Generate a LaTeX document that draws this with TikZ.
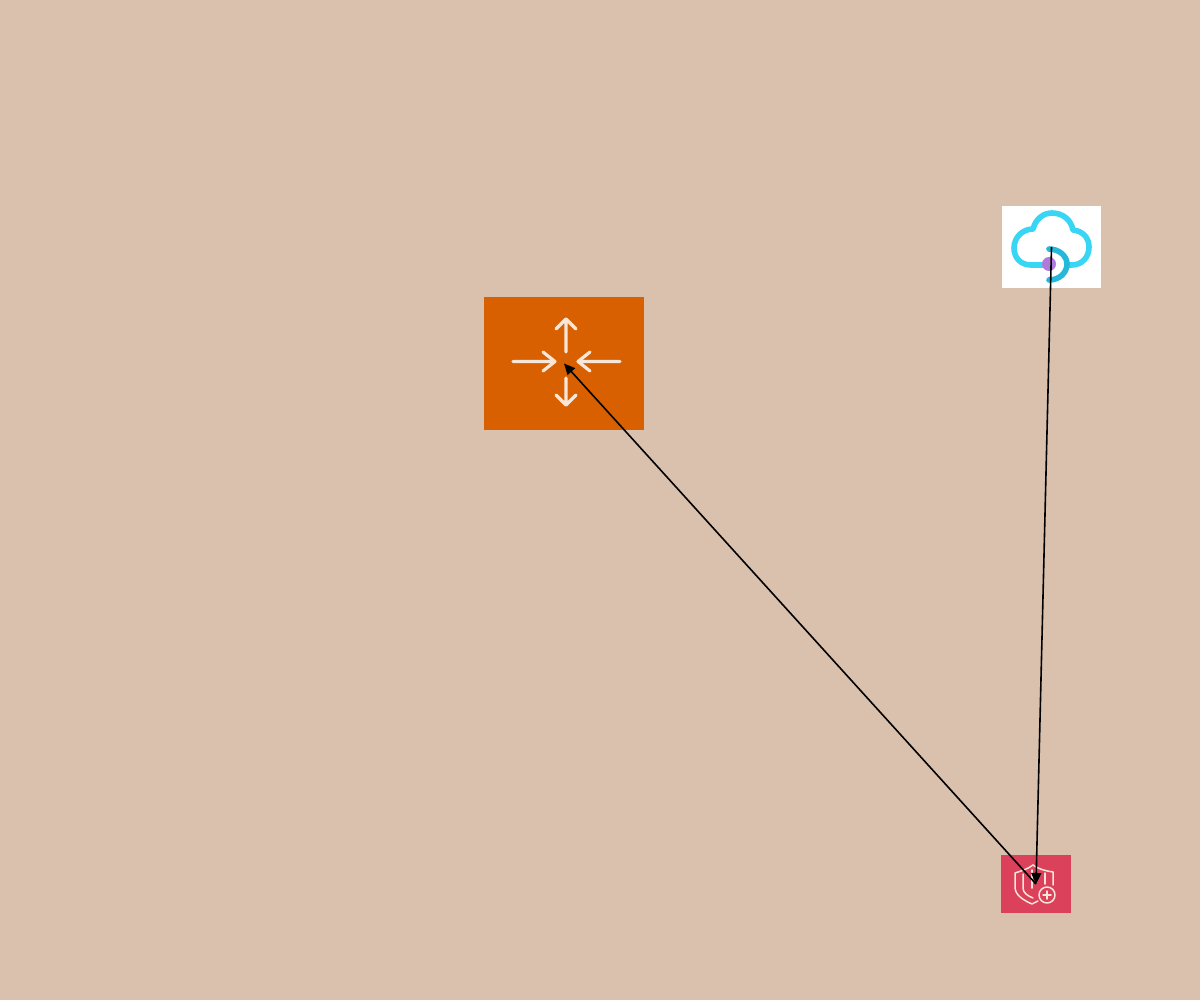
\documentclass[tikz,border=0pt]{standalone}
\usetikzlibrary{arrows.meta}
\definecolor{bgc}{HTML}{DAC1AE}
\definecolor{orangec}{HTML}{D86000}
\definecolor{redc}{HTML}{DB415A}
\definecolor{cyanc}{HTML}{38D6F4}
\definecolor{cyand}{HTML}{26B8D8}
\definecolor{purplec}{HTML}{B07ADB}
\definecolor{glyphc}{HTML}{F8E6D8}
\tikzset{
  x=1pt,y=-1pt,
  iconbox/.style={draw=none,inner sep=0pt,outer sep=0pt,minimum width=#1},
  link/.style={draw=black,line width=1.6pt,-{Triangle[length=11pt,width=10pt]}},
  glyph/.style={draw=glyphc,line width=3.2pt,line cap=round,line join=round},
  shieldline/.style={draw=glyphc,line width=1.5pt,line cap=round,line join=round},
  cloudline/.style={line width=5.6pt,line cap=round,line join=round},
}
\begin{document}
\begin{tikzpicture}
\useasboundingbox (0,0) rectangle (1200,1000);
\fill[bgc] (0,0) rectangle (1200,1000);
% icon tiles
\node[iconbox=99pt,minimum height=82pt,fill=white] (cloud) at (1051.5,247) {};
\node[iconbox=160pt,minimum height=133pt,fill=orangec] (router) at (564,363.5) {};
\node[iconbox=70pt,minimum height=58pt,fill=redc] (shield) at (1036,884) {};
% cloud glyph
\draw[cloudline,draw=cyanc]
  (1043,265) -- (1031,265)
  .. controls (1020,265) and (1014,257) .. (1014,248)
  .. controls (1014,237) and (1023,229) .. (1033,229)
  .. controls (1036,218) and (1044,213) .. (1052,213)
  .. controls (1063,213) and (1071,220) .. (1073,230)
  .. controls (1083,231) and (1089,238) .. (1089,247)
  .. controls (1089,257) and (1082,265) .. (1072,265)
  -- (1067,265);
\draw[cloudline,draw=cyand]
  (1049,249) .. controls (1059,249) and (1067,256) .. (1067,264)
  .. controls (1067,273) and (1059,280) .. (1049,280);
\fill[purplec] (1049,264) circle (7);
% router glyph
\draw[glyph] (566,378) -- (566,405) (556,395) -- (566,405) -- (576,395);
\draw[glyph] (566,352) -- (566,319) (556,329) -- (566,319) -- (576,329);
\draw[glyph] (513,361.5) -- (555,361.5) (543,352) -- (555,361.5) -- (543,371);
\draw[glyph] (620,361.5) -- (578,361.5) (590,352) -- (578,361.5) -- (590,371);
% shield glyph
\draw[shieldline]
  (1033,865) .. controls (1028,869) and (1021,871) .. (1015,873)
  -- (1015,887) .. controls (1015,895) and (1023,900) .. (1032,904)
  .. controls (1034,903) and (1036,902) .. (1038,901);
\draw[shieldline]
  (1033,865) .. controls (1038,869) and (1046,871) .. (1053,872) -- (1053,885);
\draw[shieldline]
  (1023,874) -- (1023,888) .. controls (1023,893) and (1028,896) .. (1033,898);
\draw[shieldline] (1032,870) -- (1032,888);
\draw[shieldline] (1045,873) -- (1045,884);
\draw[shieldline] (1047,895) circle (8);
\draw[shieldline] (1043,895) -- (1051,895) (1047,891) -- (1047,899);
% connectors
\draw[link] (cloud.center) -- (shield.center);
\draw[link] (shield.center) -- (router.center);
\end{tikzpicture}
\end{document}
